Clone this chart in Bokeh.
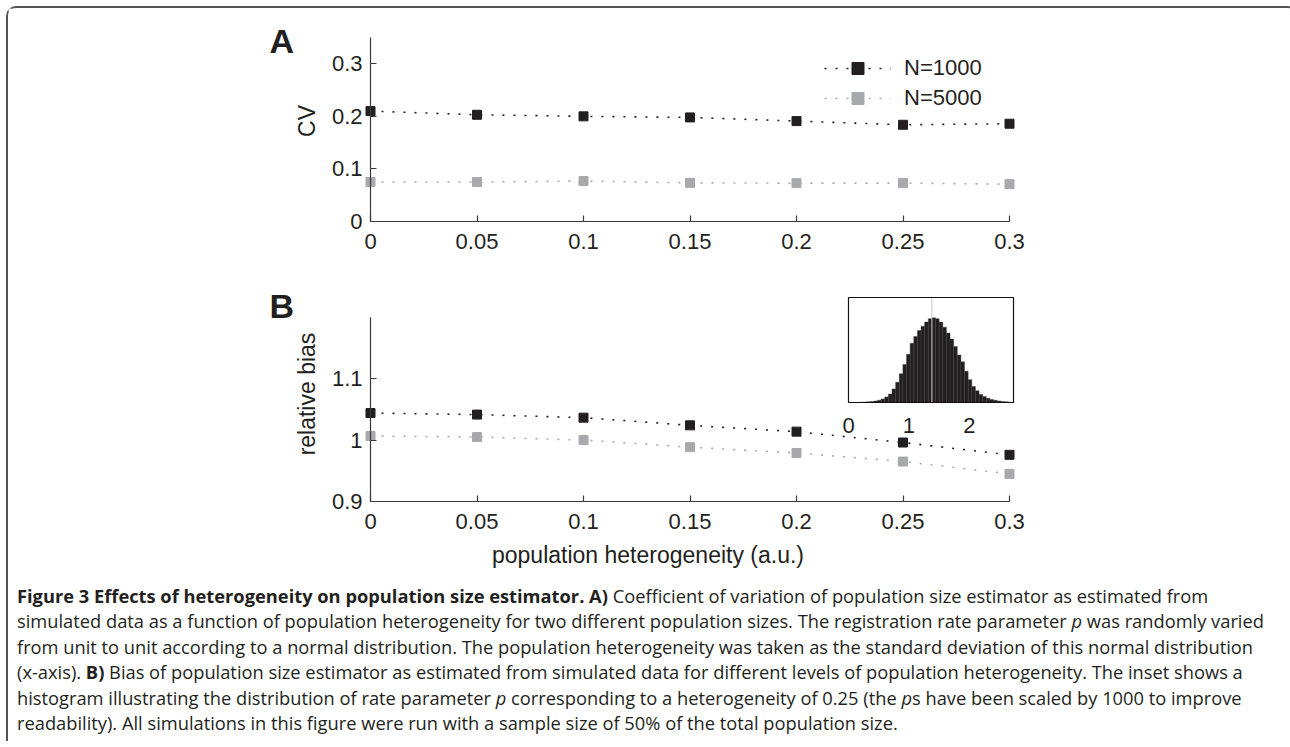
from bokeh.plotting import figure
from bokeh.models import Range1d, FixedTicker, Label, Legend, LegendItem, Div
from bokeh.layouts import column
from bokeh.embed import file_html
from bokeh.resources import INLINE
from bokeh.core.properties import value

# ---------------- data ----------------
heterogeneity = [0, 0.05, 0.1, 0.15, 0.2, 0.25, 0.3]
series_labels = ["N=1000", "N=5000"]
cv_n1000 = [0.210, 0.203, 0.200, 0.198, 0.191, 0.184, 0.186]
cv_n5000 = [0.075, 0.075, 0.077, 0.0735, 0.073, 0.073, 0.071]
bias_n1000 = [1.044, 1.0415, 1.0365, 1.024, 1.0137, 0.996, 0.976]
bias_n5000 = [1.0066, 1.005, 1.000, 0.9885, 0.979, 0.965, 0.945]

x_ticks = [0, 0.05, 0.1, 0.15, 0.2, 0.25, 0.3]
x_tick_labels = ["0", "0.05", "0.1", "0.15", "0.2", "0.25", "0.3"]
cv_ticks = [0, 0.1, 0.2, 0.3]
cv_tick_labels = ["0", "0.1", "0.2", "0.3"]
cv_axis = (0, 0.35)
bias_ticks = [0.9, 1.0, 1.1]
bias_tick_labels = ["0.9", "1", "1.1"]
bias_axis = (0.9, 1.2)

# inset histogram (rate parameter p, scaled by 1000)
inset_bin_centers = [0.15, 0.21, 0.27, 0.33, 0.39, 0.45, 0.51, 0.57, 0.63, 0.69,
                     0.75, 0.81, 0.87, 0.93, 0.99, 1.05, 1.11, 1.17, 1.23, 1.29,
                     1.35, 1.41, 1.47, 1.53, 1.59, 1.65, 1.71, 1.77, 1.83, 1.89,
                     1.95, 2.01, 2.07, 2.13, 2.19, 2.25, 2.31, 2.37, 2.43, 2.49,
                     2.55, 2.61, 2.67]
inset_counts = [0.002, 0.003, 0.005, 0.008, 0.012, 0.018, 0.027, 0.042, 0.065, 0.10,
                0.16, 0.24, 0.34, 0.45, 0.57, 0.70, 0.78, 0.85, 0.90, 0.95,
                0.99, 1.00, 0.99, 0.95, 0.89, 0.82, 0.75, 0.66, 0.56, 0.48,
                0.37, 0.27, 0.19, 0.14, 0.095, 0.07, 0.05, 0.036, 0.027, 0.019,
                0.013, 0.009, 0.005]
inset_bin_width = 0.06
inset_mean = 1.38
inset_ticks = [0, 1, 2]
inset_tick_labels = ["0", "1", "2"]
inset_xmax = 2.73
inset_ymax = 1.24

# ---------------- styling / layout ----------------
FONT = "Liberation Sans"
DARK = "#231f20"
GREY = "#a7a9ac"
AXIS = "#3a3a3a"
OX, OY = 8, 8            # page offset of the content
TOTAL_W = 1278
AX0_PX, AX1_PX = 370, 1009   # page x of x=0 and x=0.3
FRAME_L_PX = 260             # page x of frame left (room for panel letters)
FRAME_R_PX = 1035
LEFT = FRAME_L_PX - OX
FRAME_W = FRAME_R_PX - FRAME_L_PX
RIGHT = TOTAL_W - LEFT - FRAME_W
kxp = (AX1_PX - AX0_PX) / 0.3
XR = (-(AX0_PX - FRAME_L_PX) / kxp, 0.3 + (FRAME_R_PX - AX1_PX) / kxp)
SHIFT = AX0_PX - FRAME_L_PX   # y axis drawn SHIFT px inside the frame


def style_axes(p, xt, xl, yt, yl, ybounds):
    for ax in p.xaxis + p.yaxis:
        ax.axis_line_color = AXIS
        ax.axis_line_width = 1.2
        ax.major_tick_line_color = AXIS
        ax.major_tick_line_width = 1.2
        ax.major_tick_in = 6
        ax.major_tick_out = 0
        ax.minor_tick_line_color = None
        ax.major_label_text_font = FONT
        ax.major_label_text_font_size = "22px"
        ax.major_label_text_color = DARK
        ax.axis_label_text_font = FONT
        ax.axis_label_text_font_size = "23px"
        ax.axis_label_text_font_style = "normal"
        ax.axis_label_text_color = DARK
    p.xaxis.major_label_standoff = 12
    p.xaxis.ticker = FixedTicker(ticks=xt)
    p.xaxis.major_label_overrides = dict(zip(xt, xl))
    p.xaxis.bounds = (0, 0.3)
    p.yaxis.ticker = FixedTicker(ticks=yt)
    p.yaxis.major_label_overrides = dict(zip(yt, yl))
    p.yaxis.bounds = ybounds
    # y axis sits at x=0, which is SHIFT px right of the frame edge
    p.yaxis.axis_line_color = None
    p.yaxis.major_tick_out = -SHIFT
    p.yaxis.major_tick_in = SHIFT + 6
    p.yaxis.major_label_standoff = 8 - SHIFT
    p.yaxis.axis_label_standoff = 9
    p.segment(x0=[0], y0=[ybounds[0]], x1=[0], y1=[ybounds[1]],
              line_color=AXIS, line_width=1.2)
    p.xgrid.visible = False
    p.ygrid.visible = False
    p.outline_line_color = None


def series(p, ys, color):
    ln = p.line(heterogeneity, ys, line_color=color, line_width=1.6, line_dash="2 9")
    sc = p.scatter(heterogeneity, ys, marker="square", size=9, fill_color=color,
                   line_color=color)
    return ln, sc


def panel_letter(p, letter, y_from_bottom):
    p.add_layout(Label(x=269 - FRAME_L_PX, y=y_from_bottom, x_units="screen",
                       y_units="screen", text=letter, text_font=FONT,
                       text_font_size="34px", text_font_style="bold",
                       text_color=DARK, text_baseline="middle", text_align="left"))


# ---- panel A ----
A_TOP_PX, A_BOT_PX, A_AXTOP_PX = 20, 221, 37
kyA = (A_BOT_PX - A_AXTOP_PX) / (cv_axis[1] - cv_axis[0])
pA = figure(output_backend="svg", toolbar_location=None,
            frame_width=FRAME_W, frame_height=A_BOT_PX - A_TOP_PX,
            min_border_left=LEFT, min_border_right=RIGHT,
            min_border_top=A_TOP_PX - OY, min_border_bottom=41,
            x_range=Range1d(*XR),
            y_range=Range1d(cv_axis[0], cv_axis[1] + (A_AXTOP_PX - A_TOP_PX) / kyA))
series_A = [series(pA, cv_n1000, DARK), series(pA, cv_n5000, GREY)]
style_axes(pA, x_ticks, x_tick_labels, cv_ticks, cv_tick_labels, cv_axis)
pA.yaxis.axis_label = "CV"
legend = Legend(items=[LegendItem(label=series_labels[i], renderers=list(series_A[i]))
                       for i in range(2)],
                location=(824 - FRAME_L_PX, 108), orientation="vertical",
                glyph_width=67, glyph_height=30, label_height=30,
                label_standoff=13, spacing=0, padding=0, margin=0,
                border_line_alpha=0, background_fill_alpha=0,
                label_text_font=FONT, label_text_font_size="22px",
                label_text_color=DARK, label_text_baseline="middle")
pA.add_layout(legend)
panel_letter(pA, "A", A_BOT_PX - 40)

# ---- panel B ----
A_TOTAL = (A_TOP_PX - OY) + (A_BOT_PX - A_TOP_PX) + 41
B_Y0 = OY + A_TOTAL
B_TOP_PX, B_BOT_PX = 286, 501
B_BOT = 74
pB = figure(output_backend="svg", toolbar_location=None,
            frame_width=FRAME_W, frame_height=B_BOT_PX - B_TOP_PX,
            min_border_left=LEFT, min_border_right=RIGHT,
            min_border_top=B_TOP_PX - B_Y0, min_border_bottom=B_BOT,
            x_range=Range1d(*XR), y_range=Range1d(0.9, 1.25))
series(pB, bias_n1000, DARK)
series(pB, bias_n5000, GREY)
style_axes(pB, x_ticks, x_tick_labels, bias_ticks, bias_tick_labels, bias_axis)
pB.yaxis.axis_label = "relative bias"
pB.xaxis.axis_label = "population heterogeneity (a.u.)"
pB.xaxis.axis_label_standoff = 10
panel_letter(pB, "B", B_BOT_PX - 305)

# inset placement (page pixels of the inset box)
ins_l, ins_r, ins_t, ins_b = 848, 1013, 297, 402
kx = (ins_r - ins_l) / inset_xmax
ky = (ins_b - ins_t) / inset_ymax
pB.extra_x_ranges = {"ix": Range1d(-(ins_l - FRAME_L_PX) / kx,
                                   inset_xmax + (FRAME_R_PX - ins_r) / kx)}
pB.extra_y_ranges = {"iy": Range1d(-(B_BOT_PX - ins_b) / ky,
                                   inset_ymax + (ins_t - B_TOP_PX) / ky)}
half = inset_bin_width / 2
pB.quad(left=[c - half for c in inset_bin_centers],
        right=[c + half for c in inset_bin_centers],
        bottom=[0] * len(inset_counts), top=inset_counts,
        fill_color=DARK, line_color="#3a3a3a", line_width=0.4,
        x_range_name="ix", y_range_name="iy")
pB.segment(x0=[inset_mean], y0=[0], x1=[inset_mean], y1=[inset_ymax],
           line_color="#c9c9c9", line_width=1, x_range_name="ix", y_range_name="iy")
pB.quad(left=[0], right=[inset_xmax], bottom=[0], top=[inset_ymax],
        fill_color=None, line_color="#111111", line_width=1.2,
        x_range_name="ix", y_range_name="iy")
pB.text(x=inset_ticks, y=[0] * len(inset_ticks), text=inset_tick_labels,
        y_offset=23, text_align="center", text_baseline="middle",
        text_font=value(FONT), text_font_size="22px", text_color=DARK,
        x_range_name="ix", y_range_name="iy")

# ---- caption ----
cap_lines = [
    "<b>Figure 3 Effects of heterogeneity on population size estimator. A)</b> Coefficient of variation of population size estimator as estimated from",
    "simulated data as a function of population heterogeneity for two different population sizes. The registration rate parameter <i>p</i> was randomly varied",
    "from unit to unit according to a normal distribution. The population heterogeneity was taken as the standard deviation of this normal distribution",
    "(x-axis). <b>B)</b> Bias of population size estimator as estimated from simulated data for different levels of population heterogeneity. The inset shows a",
    "histogram illustrating the distribution of rate parameter <i>p</i> corresponding to a heterogeneity of 0.25 (the <i>p</i>s have been scaled by 1000 to improve",
    "readability). All simulations in this figure were run with a sample size of 50% of the total population size.",
]
cap_html = ("<div style=\"font-family:'Open Sans';font-size:18.3px;line-height:25.4px;"
            "color:#231f20;white-space:nowrap;padding:3px 0 0 4px;\">"
            + "<br>".join(cap_lines) + "</div>")
caption = Div(text=cap_html, width=TOTAL_W, height=156)

layout = column(pA, pB, caption, spacing=0,
                styles={"border-top": "2px solid #555555",
                        "border-left": "2px solid #555555",
                        "border-right": "2px solid #555555",
                        "border-radius": "10px 10px 0 0",
                        "margin-left": "6px", "margin-top": "6px",
                        "margin-right": "2px"})

open("out.html", "w").write(file_html(layout, INLINE))
